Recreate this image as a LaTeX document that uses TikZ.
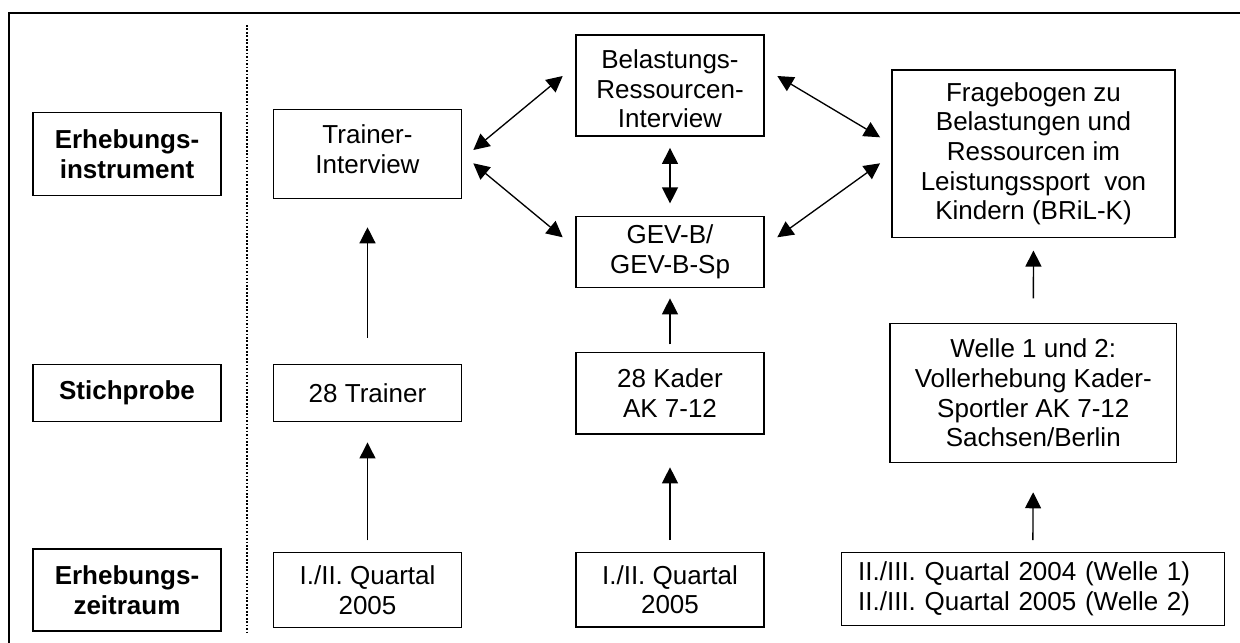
\documentclass[tikz,border=0pt]{standalone}
\usepackage{fontspec}
\setmainfont{Liberation Sans}
\usetikzlibrary{arrows.meta,calc}
\tikzset{
  box/.style={draw, line width=0.9pt, inner sep=0pt, align=center,
    font=\fontsize{19.5}{22.2}\selectfont},
  lbl/.style={box, font=\fontsize{19.5}{22.2}\selectfont\bfseries},
  arr/.style={line width=1pt, -{Triangle[length=12pt,width=12pt]}},
  darr/.style={line width=1pt, {Triangle[length=12pt,width=12pt]}-{Triangle[length=12pt,width=12pt]}},
}
\begin{document}
\begin{tikzpicture}[x=0.75pt,y=-0.75pt]
\useasboundingbox (0,0) rectangle (1240,643);
% frame (top and left edges)
\coordinate (fTL) at (9,13);
\coordinate (fTR) at (1240,13);
\coordinate (fBL) at (9,643);
\draw[line width=1.3pt] (fBL) -- (fTL) -- (fTR);
% dotted separator
\coordinate (dTop) at (246.7,25);
\coordinate (dBot) at (246.7,632);
\draw[line width=1.6pt, dash pattern=on 1.3pt off 1.3pt] (dTop) -- (dBot);

% left labels
\node[lbl, minimum width=141pt, minimum height=61.7pt] (L1) at (127,154) {Erhebungs-\\instrument};
\node[lbl, minimum width=141pt, minimum height=43.3pt] (L2) at (127,393) {Stichprobe};
\node[lbl, minimum width=141pt, minimum height=61.5pt] (L3) at (127,590) {Erhebungs-\\zeitraum};

% column 1
\node[box, minimum width=141.3pt, minimum height=66.75pt] (T1) at (367.5,153.8) {Trainer-\\Interview\rule[-7.5pt]{0pt}{7.5pt}};
\node[box, minimum width=141.3pt, minimum height=43.3pt] (T2) at (367.5,393) {28 Trainer};
\node[box, minimum width=141.3pt, minimum height=56.25pt] (T3) at (367.5,590) {I./II. Quartal\\2005};

% column 2
\node[box, minimum width=141pt, minimum height=75.75pt] (M1) at (670,85.5) {\rule{0pt}{19pt}Belastungs-\\Ressourcen-\\Interview};
\node[box, minimum width=141pt, minimum height=53pt] (M2) at (670,252) {GEV-B/\\GEV-B-Sp};
\node[box, minimum width=141pt, minimum height=61.3pt] (M3) at (670,393.2) {28 Kader\\AK 7-12};
\node[box, minimum width=141pt, minimum height=56pt] (M4) at (670,589.7) {I./II. Quartal\\2005};

% column 3
\node[box, minimum width=212.25pt, minimum height=125.8pt] (R1) at (1033.5,153.8) {Fragebogen zu\\Belastungen und\\Ressourcen im\\Leistungssport\ \ von\\Kindern (BRiL-K)};
\node[box, minimum width=215pt, minimum height=104.5pt] (R2) at (1033.3,393) {Welle 1 und 2:\\Vollerhebung Kader-\\Sportler AK 7-12\\Sachsen/Berlin};
\node[box, minimum width=287.25pt, minimum height=54.75pt, text width=262pt, align=left] (R3) at (1032.8,588.8) {II./III. Quartal 2004 (Welle 1)\\II./III. Quartal 2005 (Welle 2)};

% vertical arrows
\draw[arr, shorten <=19.3pt, shorten >=21.3pt] (T2.north) -- (T1.south);
\draw[arr, shorten <=8.7pt, shorten >=15pt] (T3.north) -- (T2.south);
\draw[arr, shorten <=5.5pt, shorten >=7.8pt] (M3.north) -- (M2.south);
\draw[arr, shorten <=8.7pt, shorten >=24.5pt] (M4.north) -- (M3.south);
\draw[darr, shorten <=8.5pt, shorten >=9.5pt] (M1.south) -- (M2.north);
\draw[arr, shorten <=18.2pt, shorten >=9.2pt] (R2.north) -- (R1.south);
\draw[arr, shorten <=8.7pt, shorten >=21.75pt] (R3.north) -- (R2.south);

% diagonal double arrows
\draw[darr] ([shift={(11,-3.8)}]T1.east) -- ([shift={(-12.7,-9.5)}]M1.west);
\draw[darr] ([shift={(11,9.5)}]T1.east) -- ([shift={(-12.7,-14.7)}]M2.west);
\draw[darr] ([shift={(12.7,-9.5)}]M1.east) -- ([shift={(-11.3,-16.5)}]R1.west);
\draw[darr] ([shift={(12.7,-14.7)}]M2.east) -- ([shift={(-11.3,9.5)}]R1.west);
\end{tikzpicture}
\end{document}
